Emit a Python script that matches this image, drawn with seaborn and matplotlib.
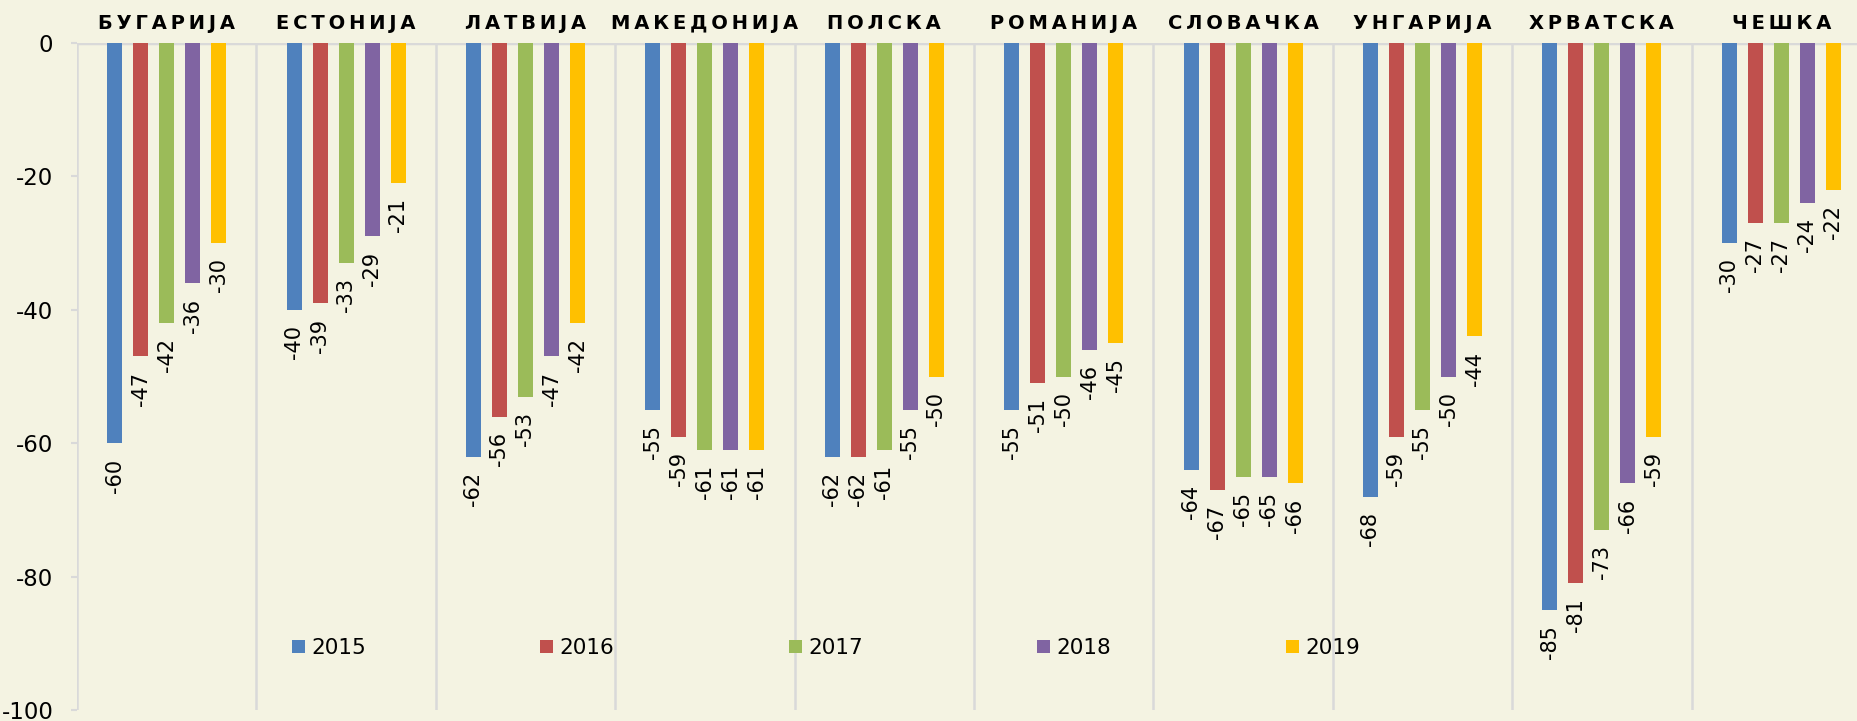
import numpy as np
import pandas as pd
import matplotlib
matplotlib.use("Agg")
import matplotlib.pyplot as plt
import seaborn as sns

countries = ['БУГАРИЈА', 'ЕСТОНИЈА', 'ЛАТВИЈА', 'МАКЕДОНИЈА', 'ПОЛСКА',
             'РОМАНИЈА', 'СЛОВАЧКА', 'УНГАРИЈА', 'ХРВАТСКА', 'ЧЕШКА']
years = ['2015', '2016', '2017', '2018', '2019']
v2015 = [-60, -40, -62, -55, -62, -55, -64, -68, -85, -30]
v2016 = [-47, -39, -56, -59, -62, -51, -67, -59, -81, -27]
v2017 = [-42, -33, -53, -61, -61, -50, -65, -55, -73, -27]
v2018 = [-36, -29, -47, -61, -55, -46, -65, -50, -66, -24]
v2019 = [-30, -21, -42, -61, -50, -45, -66, -44, -59, -22]
colors = ['#4F81BD', '#C0504D', '#9BBB59', '#8064A2', '#FFC000']

series = [v2015, v2016, v2017, v2018, v2019]
rows = []
for yr, vals in zip(years, series):
    for c, v in zip(countries, vals):
        rows.append({'country': c, 'year': yr, 'value': v})
df = pd.DataFrame(rows)

bg = '#F4F3E2'
grid = '#D9D9D9'

sns.set_style('white')
plt.rcParams['font.family'] = ['DejaVu Sans']
plt.rcParams['axes.unicode_minus'] = False
plt.rcParams['text.color'] = 'black'
plt.rcParams['xtick.labelcolor'] = 'black'
plt.rcParams['ytick.labelcolor'] = 'black'

fig = plt.figure(figsize=(18.58, 7.21), dpi=100, facecolor=bg)
# plot area runs past the right edge, like the reference
ax = fig.add_axes([77 / 1858, 1 - 710 / 721, 1794 / 1858, 667 / 721])
ax.set_facecolor(bg)

sns.barplot(data=df, x='country', y='value', hue='year', palette=colors,
            saturation=1, width=0.725, gap=0.42, linewidth=0, ax=ax,
            order=countries, hue_order=years)

for cont in ax.containers:
    ax.bar_label(cont, fmt='%.0f', padding=11, rotation=90, fontsize=15,
                 color='black')

ax.set_ylim(-100, 0)
ax.set_xlim(-0.5, len(countries) - 0.5)
ax.set_yticks([0, -20, -40, -60, -80, -100])
ax.set_xlabel('')
ax.set_ylabel('')

# category separators and zero line
ax.vlines(np.arange(len(countries) + 1) - 0.5, -100, 0, color=grid, lw=1.8, zorder=0)
ax.axhline(0, color=grid, lw=2.5, zorder=0.5)
for s in ax.spines.values():
    s.set_visible(False)

ax.xaxis.tick_top()
ax.set_xticks(range(len(countries)))
ax.set_xticklabels(['\u2009'.join(c) for c in countries], fontsize=14,
                   fontweight='bold', color='black')
ax.tick_params(axis='x', length=0, pad=7)
ax.tick_params(axis='y', length=4, width=1.5, color=grid, direction='out',
               labelsize=16.5, pad=13, left=True, labelcolor='black')

handles, labels = ax.get_legend_handles_labels()
ax.legend_.remove()
fig.legend(handles, labels, loc='center', bbox_to_anchor=(826 / 1858, 1 - 648 / 721),
           ncol=5, frameon=False, fontsize=15.5, handlelength=0.6, handleheight=0.6,
           handletextpad=0.3, columnspacing=8.1, borderpad=0, labelcolor='black')

fig.savefig('out.png', dpi=100, facecolor=bg)
